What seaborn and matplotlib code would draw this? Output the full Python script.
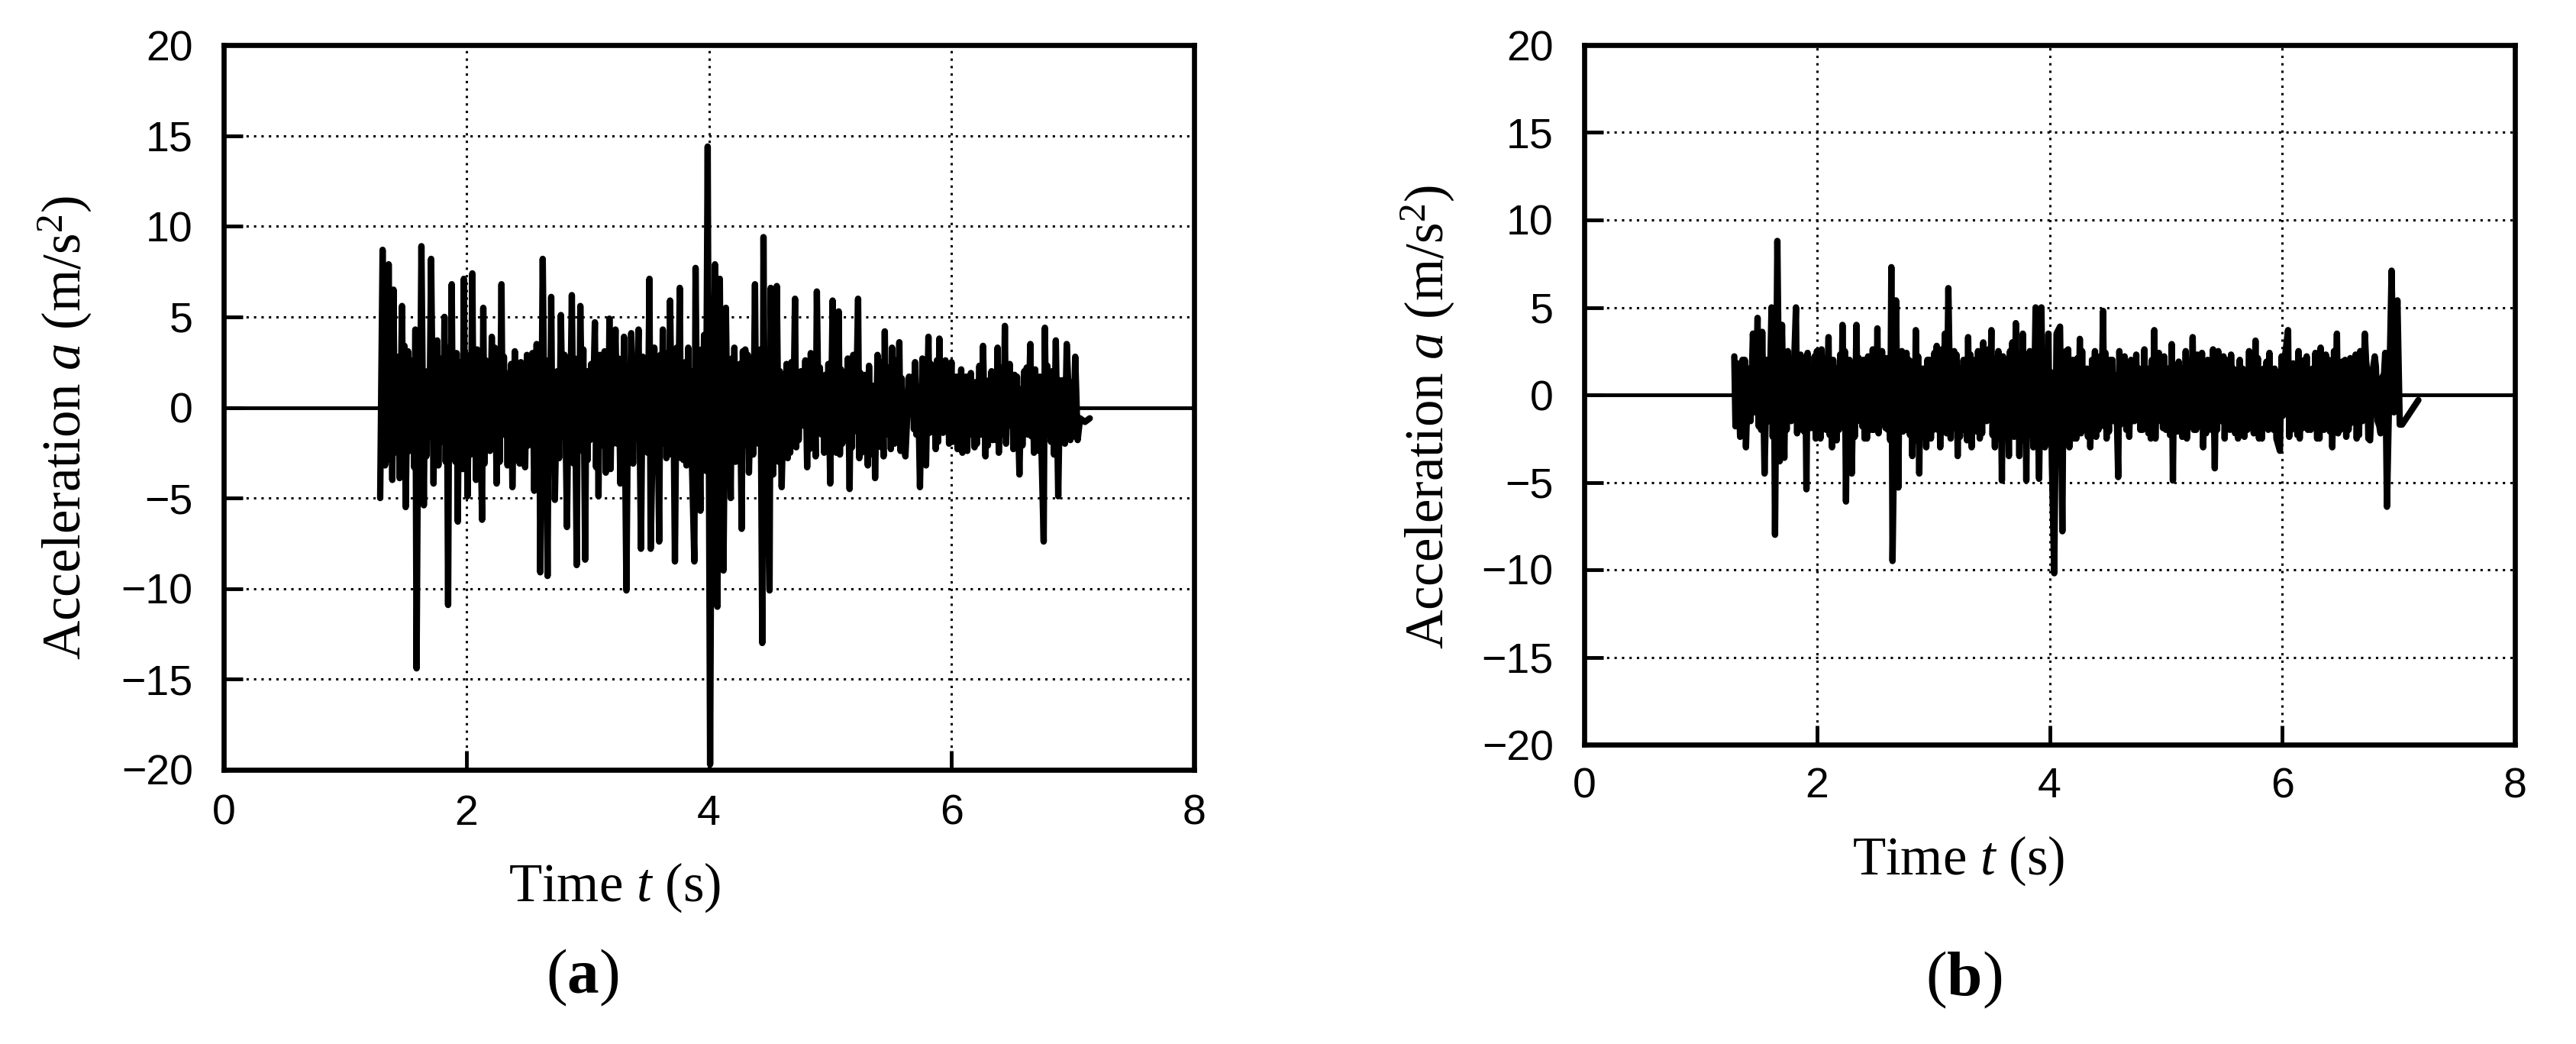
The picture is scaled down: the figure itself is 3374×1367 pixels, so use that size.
import numpy as np
import pandas as pd
import matplotlib
matplotlib.use("Agg")
import matplotlib.pyplot as plt
import seaborn as sns

# ---------------- data ----------------
# panel (a): main peaks / troughs
time_a = [1.29, 1.31, 1.33, 1.36, 1.39, 1.40, 1.43, 1.45, 1.47, 1.50, 1.52, 1.55, 1.58, 1.59,
          1.63, 1.65, 1.68, 1.71, 1.73, 1.76, 1.79, 1.82, 1.85, 1.88, 1.91, 1.93, 1.96, 1.98,
          2.01, 2.05, 2.08, 2.11, 2.13, 2.14, 2.17, 2.21, 2.25, 2.29, 2.32, 2.35, 2.38, 2.40,
          2.44, 2.47, 2.50, 2.53, 2.56, 2.58, 2.61, 2.63, 2.67, 2.70, 2.73, 2.75, 2.78, 2.83,
          2.87, 2.91, 2.94, 2.98, 3.01, 3.04, 3.06, 3.09, 3.12, 3.15, 3.18, 3.21, 3.23, 3.27,
          3.30, 3.32, 3.36, 3.40, 3.42, 3.44, 3.48, 3.51, 3.52, 3.55, 3.59, 3.62, 3.65, 3.68,
          3.72, 3.76, 3.79, 3.83, 3.86, 3.88, 3.89, 3.93, 3.96, 3.99, 4.01, 4.05, 4.07, 4.09,
          4.12, 4.14, 4.18, 4.21, 4.24, 4.27, 4.30, 4.33, 4.35, 4.38, 4.41, 4.44, 4.45, 4.48,
          4.50, 4.51, 4.53, 4.56, 4.60, 4.62, 4.65, 4.68, 4.71, 4.74, 4.76, 4.78, 4.81, 4.84,
          4.86, 4.89, 4.93, 4.96, 5.00, 5.02, 5.05, 5.07, 5.10, 5.12, 5.16, 5.19, 5.23, 5.26,
          5.29, 5.31, 5.34, 5.37, 5.39, 5.42, 5.45, 5.48, 5.51, 5.53, 5.57, 5.60, 5.62, 5.65,
          5.66, 5.68, 5.71, 5.74, 5.76, 5.79, 5.81, 5.84, 5.87, 5.90, 5.93, 5.95, 5.98, 6.00,
          6.03, 6.06, 6.09, 6.12, 6.15, 6.18, 6.21, 6.26, 6.28, 6.31, 6.34, 6.38, 6.41, 6.44,
          6.47, 6.50, 6.53, 6.54, 6.56, 6.60, 6.63, 6.65, 6.68, 6.71, 6.74, 6.76, 6.77, 6.80,
          6.83, 6.86, 6.88, 6.92, 6.95, 6.98, 7.02, 7.04, 7.06, 7.10, 7.14]
acc_a = [-5.0, 8.7, -3.2, 7.9, -4.0, 6.5, -2.5, -3.9, 5.6, -5.5, 3.1, -2.0, 4.3, -14.4,
         8.9, -5.4, 2.0, 8.2, -4.2, 3.7, -1.5, 5.0, -10.9, 6.8, -3.0, -6.3, 2.5, 7.1,
         -4.9, 7.4, -4.0, 2.0, -6.2, 5.5, -2.0, 3.9, -4.2, 6.8, -1.5, 1.9, -4.4, 3.1,
         -3.1, 1.5, 2.9, -1.0, -4.6, 3.5, -9.1, 8.2, -9.3, 6.1, -5.1, 2.0, 5.1, -6.6,
         6.2, -8.7, 5.6, -8.4, 2.0, -1.5, 4.7, -4.9, 2.1, -3.6, 4.9, -2.0, 4.3, -4.2,
         3.9, -10.1, 4.1, -1.0, 4.3, -7.8, 1.5, 7.1, -7.8, 3.3, -7.4, 4.3, -2.8, 5.9,
         -8.5, 6.6, -2.9, 3.3, -3.0, -8.5, 7.7, -5.7, 4.0, 14.4, -19.7, 7.9, -11.0, 7.1,
         -9.0, 5.5, -5.0, 3.3, -1.0, -6.7, 3.2, -3.6, 1.8, 6.8, -2.0, -13.0, 9.4, -3.0,
         -10.1, 6.6, -3.7, 6.7, -4.4, 1.8, -2.8, 2.5, 6.0, -1.8, 2.0, -1.0, -3.3, 3.0,
         -1.2, 6.4, -1.5, 1.8, -4.2, 5.9, -2.5, 5.3, -2.0, 1.5, -4.5, 2.9, 6.0, -2.5,
         1.8, -3.2, 1.2, -3.9, 2.9, -2.2, 4.2, -1.5, 3.3, -2.0, 3.6, -1.5, -2.7, 1.7,
         0.5, 1.7, -1.5, -4.4, 2.7, -3.2, 3.9, -1.0, -2.3, 3.8, -1.4, 2.6, -2.0, 2.5,
         -1.0, 1.2, -2.5, 1.7, -1.5, 1.0, -2.0, 3.4, -2.7, 1.5, -1.8, 3.3, -1.5, 4.5,
         -1.0, 1.5, -2.0, 1.7, -3.7, 2.0, -1.5, 3.5, -2.5, 1.0, -1.8, -7.4, 4.4, -1.5,
         2.0, 3.7, -4.9, 1.5, 3.5, -1.8, 2.8, -1.8, -0.6, -0.8, -0.6]
# panel (a): smaller oscillations filling the dense core
extra_time_a = [1.34, 1.35, 1.37, 1.38, 1.41, 1.42, 1.44, 1.48, 1.49, 1.53, 1.54, 1.56, 1.57,
                1.605, 1.615, 1.66, 1.67, 1.695, 1.74, 1.75, 1.77, 1.78, 1.80, 1.81, 1.83, 1.84,
                1.86, 1.87, 1.89, 1.90, 1.92, 1.94, 1.95, 1.97, 1.99, 2.00, 2.025, 2.035, 2.06,
                2.07, 2.09, 2.10, 2.15, 2.16, 2.185, 2.195, 2.225, 2.235, 2.265, 2.275, 2.30,
                2.31, 2.33, 2.34, 2.36, 2.37, 2.415, 2.425, 2.45, 2.46, 2.485, 2.51, 2.52, 2.545,
                2.59, 2.60, 2.645, 2.655, 2.68, 2.69, 2.71, 2.72, 2.765, 2.795, 2.81, 2.845,
                2.855, 2.885, 2.895, 2.92, 2.93, 2.955, 2.965, 2.99, 3.00, 3.02, 3.03, 3.07,
                3.08, 3.10, 3.11, 3.13, 3.14, 3.16, 3.17, 3.19, 3.20, 3.245, 3.255, 3.28, 3.29,
                3.335, 3.345, 3.375, 3.385, 3.455, 3.465, 3.495, 3.565, 3.575, 3.60, 3.61, 3.63,
                3.64, 3.66, 3.67, 3.695, 3.705, 3.735, 3.745, 3.77, 3.78, 3.805, 3.815, 3.84,
                3.85, 3.905, 3.915, 3.94, 3.95, 3.975, 4.025, 4.035, 4.10, 4.11, 4.155, 4.165,
                4.19, 4.20, 4.22, 4.23, 4.255, 4.28, 4.29, 4.31, 4.32, 4.365, 4.39, 4.40, 4.425,
                4.46, 4.47, 4.54, 4.55, 4.575, 4.585, 4.63, 4.64, 4.66, 4.67, 4.695, 4.72, 4.73,
                4.795, 4.82, 4.83, 4.87, 4.88, 4.905, 4.915, 4.94, 4.95, 4.975, 4.985, 5.03,
                5.04, 5.08, 5.09, 5.135, 5.145, 5.17, 5.18, 5.21, 5.24, 5.25, 5.27, 5.28, 5.32,
                5.33, 5.35, 5.36, 5.40, 5.41, 5.43, 5.44, 5.46, 5.47, 5.49, 5.50, 5.545, 5.555,
                5.58, 5.59, 5.69, 5.70, 5.725, 5.77, 5.78, 5.82, 5.83, 5.855, 5.88, 5.89, 5.91,
                5.92, 5.96, 5.97, 6.01, 6.02, 6.04, 6.05, 6.07, 6.08, 6.10, 6.11, 6.13, 6.14,
                6.16, 6.17, 6.19, 6.20, 6.23, 6.245, 6.29, 6.30, 6.32, 6.33, 6.355, 6.365, 6.39,
                6.40, 6.42, 6.43, 6.45, 6.46, 6.48, 6.49, 6.51, 6.52, 6.575, 6.585, 6.61, 6.62,
                6.66, 6.67, 6.69, 6.70, 6.72, 6.73, 6.78, 6.79, 6.81, 6.82, 6.845, 6.895, 6.905,
                6.935, 6.995, 7.005]
extra_acc_a = [1.6, -2.9, -1.4, 3.2, -2.2, 1.3, 2.8, -1.7, 3.4, -2.4, 1.5, 2.6, -3.3,
               2.1, -3.5, 1.8, -2.7, -1.6, 3.1, -2.0, -3.2, 1.4, 2.7, -1.9, -3.0, 2.3,
               3.3, -1.5, -2.8, 1.7, 3.0, 1.4, -2.2, -3.4, -1.6, 2.9, 2.0, -2.6, -1.8,
               1.5, 3.2, -2.0, -3.1, 2.6, 1.2, -2.4, -1.7, 3.3, 2.2, -3.0, -1.5,
               2.8, 1.6, -3.2, -1.4, 2.4, -2.9, 1.8, 2.5, -1.6, -3.3, -2.1, 1.4, 3.0,
               -2.0, 3.1, -1.7, 2.6, 1.9, -3.4, -2.3, 1.5, -2.8, -1.6, 2.9, 2.1,
               -1.5, -3.1, 2.7, 1.6, -2.4, -1.3, 3.2, 2.0, -2.9, -1.8, 2.4, -3.3,
               1.7, 2.9, -2.1, -1.5, 3.1, 1.8, -2.6, -3.4, 1.4, -2.0, 2.7, 1.5, -3.0,
               2.2, -1.4, -3.1, 1.9, 2.8, -1.6, -2.5, -3.2, 1.5, 2.9, -2.0, -1.3,
               3.0, 1.7, -2.6, -1.5, 2.3, 3.3, -1.9, -2.8, 1.4, 2.5, -3.2, -1.7,
               2.0, -2.9, 1.6, 3.2, -1.8, -3.5, 2.4, -2.7, -1.4, 3.0, -2.2, 1.5,
               2.7, -1.6, -3.0, 1.8, 2.4, 3.1, -2.1, -1.4, 2.9, -2.6, -1.7, 1.5, 3.2,
               -2.2, 1.7, 2.8, -1.5, -3.0, 2.0, -1.6, 2.4, 1.2, -2.5, -1.4, -2.2, 1.7,
               2.6, 1.1, -2.3, 1.5, -2.7, -1.2, 2.2, 1.4, -2.5, -1.0, 2.4, -1.8,
               1.3, -2.6, 2.1, -1.1, 2.7, 1.6, -2.2, -1.3, -2.8, 1.9, 1.0, -2.4, 2.3,
               -1.5, -2.6, 1.2, -2.0, 2.5, 1.4, -2.7, -1.1, 2.2, 1.5, -2.3, 2.6, -1.3,
               -2.4, 1.6, -1.2, 2.5, 1.1, -2.6, 1.8, -1.4, 2.4, 1.3, 2.6, -1.9, -1.1,
               2.0, -1.2, 2.2, -1.9, 0.9, 1.7, -2.3, -1.0, 2.1, 1.3, -1.7, -2.4, 0.9,
               1.9, -1.1, -2.2, 1.4, 2.3, -1.5, 1.0, -2.1, -1.3, 2.0, 1.2, -1.8, -2.5,
               1.1, 2.2, -1.4, -2.0, 1.6, 2.4, -1.0, -2.3, 1.8, 1.0, -2.1, -1.3, 2.2,
               -1.6, 1.3, 2.1, -1.2, -2.4, 1.7, -1.4, 2.3, 1.0, -1.9, -2.6, 1.5, -1.2,
               -2.0, 1.4, -1.6]

# panel (b): main peaks / troughs
time_b = [1.29, 1.30, 1.32, 1.34, 1.36, 1.39, 1.41, 1.43, 1.45, 1.47, 1.49, 1.52, 1.53, 1.55,
          1.57, 1.59, 1.61, 1.64, 1.66, 1.68, 1.70, 1.72, 1.75, 1.78, 1.80, 1.82, 1.85, 1.88,
          1.91, 1.94, 1.97, 2.00, 2.03, 2.06, 2.08, 2.10, 2.13, 2.16, 2.19, 2.22, 2.25, 2.28,
          2.30, 2.34, 2.37, 2.40, 2.43, 2.46, 2.49, 2.52, 2.55, 2.58, 2.61, 2.64, 2.65, 2.68,
          2.70, 2.73, 2.76, 2.79, 2.82, 2.85, 2.88, 2.91, 2.94, 2.97, 3.00, 3.03, 3.06, 3.10,
          3.13, 3.15, 3.18, 3.21, 3.24, 3.27, 3.30, 3.33, 3.36, 3.40, 3.43, 3.46, 3.50, 3.53,
          3.56, 3.59, 3.62, 3.65, 3.68, 3.71, 3.74, 3.77, 3.80, 3.83, 3.86, 3.88, 3.91, 3.93,
          3.96, 3.99, 4.02, 4.04, 4.06, 4.09, 4.11, 4.14, 4.17, 4.20, 4.23, 4.26, 4.29, 4.32,
          4.35, 4.39, 4.42, 4.46, 4.49, 4.52, 4.55, 4.59, 4.62, 4.66, 4.70, 4.73, 4.77, 4.80,
          4.84, 4.87, 4.90, 4.93, 4.96, 5.00, 5.05, 5.06, 5.09, 5.12, 5.15, 5.18, 5.23, 5.26,
          5.29, 5.32, 5.36, 5.39, 5.42, 5.45, 5.48, 5.52, 5.55, 5.58, 5.62, 5.66, 5.70, 5.74,
          5.77, 5.80, 5.84, 5.88, 5.91, 5.95, 5.98, 6.02, 6.05, 6.08, 6.12, 6.15, 6.19, 6.22,
          6.26, 6.30, 6.33, 6.36, 6.40, 6.43, 6.47, 6.50, 6.54, 6.57, 6.61, 6.64, 6.67, 6.71,
          6.74, 6.78, 6.82, 6.86, 6.90, 6.94, 6.96, 6.99, 7.01, 7.03, 7.10, 7.17]
acc_b = [2.2, -1.8, 1.8, -2.4, 2.0, -3.0, 1.5, -1.5, 3.5, -1.0, 4.4, -2.0, 3.6, -4.5,
         2.0, -1.5, 5.0, -8.0, 8.8, -3.8, 4.0, -3.6, 2.5, -1.5, 1.0, 5.0, -2.0, 1.0,
         -5.4, 1.0, -1.5, 2.5, -2.5, 1.5, -2.0, 3.3, -3.0, 1.5, -2.0, 4.0, -6.1, 2.0,
         -4.5, 4.0, -1.5, 2.0, -2.5, 2.0, -2.0, 3.8, -1.5, 1.5, -2.0, 7.3, -9.5, 5.4,
         -5.3, 2.5, -2.0, 2.0, -3.5, 3.7, -4.5, 1.5, -3.0, 2.0, -2.0, 2.8, -3.0, 3.5,
         6.1, -2.5, 2.5, -3.5, 1.5, -2.0, 3.3, -3.0, 2.0, -2.5, 3.0, -1.5, 3.7, -3.0,
         2.5, -4.9, 2.0, -3.5, 3.0, 4.1, -3.5, 3.5, -4.9, 2.5, -3.0, 5.0, -4.8, 5.0,
         -3.0, 3.5, -4.0, -10.2, 3.5, 3.9, -7.8, 2.5, -3.0, 2.0, -2.5, 3.2, -2.0, 1.5,
         -3.0, 2.5, -2.0, 4.8, -2.5, 2.0, -1.5, -4.7, 2.0, -2.0, 2.0, -1.5, 1.5, -2.0,
         1.5, -2.5, 3.7, -1.5, 1.5, -2.0, 2.9, -4.9, 1.5, -2.0, 1.5, -2.5, 3.3, -2.0,
         1.5, -3.0, 2.0, -2.0, -4.2, 2.5, -1.5, 2.0, -2.0, 1.5, -2.5, 1.5, -2.0, 2.0,
         3.1, -2.5, 1.5, -2.0, 1.5, -2.5, -3.2, 2.0, 3.7, -2.0, 1.5, -2.5, 2.0, -2.0,
         1.5, -2.5, 2.7, -2.0, 2.0, -3.0, 3.5, -2.0, 2.0, -2.0, 1.5, -2.5, 2.5, 3.5,
         -2.5, 1.5, -1.5, 1.0, -6.4, 7.1, -1.0, 5.4, -1.7, -1.7, -1.0, -0.3]
# panel (b): smaller oscillations filling the dense core
extra_time_b = [1.37, 1.38, 1.50, 1.51, 1.62, 1.63, 1.73, 1.74, 1.76, 1.77, 1.83, 1.84, 1.86,
                1.87, 1.89, 1.90, 1.92, 1.93, 1.95, 1.96, 1.98, 1.99, 2.01, 2.02, 2.04, 2.05,
                2.11, 2.12, 2.14, 2.15, 2.17, 2.18, 2.20, 2.21, 2.23, 2.24, 2.26, 2.27, 2.315,
                2.325, 2.35, 2.36, 2.38, 2.39, 2.41, 2.42, 2.44, 2.45, 2.47, 2.48, 2.50, 2.51,
                2.53, 2.54, 2.56, 2.57, 2.59, 2.60, 2.62, 2.63, 2.71, 2.72, 2.74, 2.75, 2.77,
                2.78, 2.80, 2.81, 2.83, 2.84, 2.86, 2.87, 2.89, 2.90, 2.92, 2.93, 2.95, 2.96,
                2.98, 2.99, 3.01, 3.02, 3.04, 3.05, 3.075, 3.085, 3.115, 3.16, 3.17, 3.19, 3.20,
                3.22, 3.23, 3.25, 3.26, 3.28, 3.29, 3.31, 3.32, 3.34, 3.35, 3.375, 3.385, 3.41,
                3.42, 3.44, 3.45, 3.475, 3.485, 3.51, 3.52, 3.54, 3.55, 3.57, 3.58, 3.60, 3.61,
                3.63, 3.64, 3.66, 3.67, 3.695, 3.72, 3.73, 3.75, 3.76, 3.78, 3.79, 3.81, 3.82,
                3.84, 3.85, 3.94, 3.95, 3.97, 3.98, 4.00, 4.01, 4.12, 4.13, 4.15, 4.16, 4.18,
                4.19, 4.21, 4.22, 4.24, 4.25, 4.27, 4.28, 4.30, 4.31, 4.33, 4.34, 4.365, 4.375,
                4.40, 4.41, 4.435, 4.445, 4.47, 4.48, 4.50, 4.51, 4.53, 4.54, 4.57, 4.60, 4.61,
                4.635, 4.645, 4.675, 4.685, 4.71, 4.72, 4.745, 4.755, 4.78, 4.79, 4.815, 4.825,
                4.85, 4.86, 4.88, 4.89, 4.91, 4.92, 4.94, 4.95, 4.975, 4.985, 5.02, 5.035, 5.07,
                5.08, 5.10, 5.11, 5.13, 5.14, 5.16, 5.17, 5.20, 5.215, 5.24, 5.25, 5.27, 5.28,
                5.30, 5.31, 5.335, 5.345, 5.37, 5.38, 5.405, 5.43, 5.44, 5.46, 5.47, 5.495,
                5.505, 5.53, 5.54, 5.56, 5.57, 5.595, 5.605, 5.635, 5.645, 5.675, 5.685, 5.715,
                5.725, 5.755, 5.78, 5.79, 5.815, 5.825, 5.855, 5.865, 5.89, 5.90, 5.925, 5.935,
                5.995, 6.005, 6.06, 6.07, 6.095, 6.105, 6.13, 6.14, 6.165, 6.175, 6.20, 6.21,
                6.235, 6.245, 6.275, 6.285, 6.31, 6.32, 6.34, 6.35, 6.375, 6.385, 6.41, 6.42,
                6.445, 6.455, 6.48, 6.49, 6.515, 6.525, 6.55, 6.56, 6.585, 6.595, 6.62, 6.63,
                6.65, 6.66, 6.69, 6.72, 6.73, 6.755, 6.765, 6.795, 6.805, 6.835, 6.845, 6.875,
                6.885]
extra_acc_b = [-1.2, 2.0, -1.8, 1.0, -2.4, 2.6, 1.3, -2.0, -1.1, 1.9, -2.2, 1.4, 2.3,
               -1.0, -2.1, 1.6, 2.4, -1.3, -1.9, 1.1, 2.2, -2.5, -1.2, 1.8, 2.6, -1.4,
               -2.3, 1.2, 2.0, -1.1, -2.6, 1.5, 2.3, -1.7, -1.0, 2.5, 1.3, -2.0, 1.7,
               -2.4, -1.1, 2.1, 1.4, -1.8, -2.5, 1.0, 2.2, -1.6, -2.0, 2.6, 1.2, -1.3,
               -2.2, 1.6, 2.5, -1.0, -1.9, 2.1, 1.1, -2.6, 1.8, -1.3, -2.1, 1.2, 2.4,
               -1.4, -2.3, 1.9, 1.0, -2.6, -1.2, 2.2, 1.5, -1.8, -2.4, 1.1, 2.0, -1.6,
               -2.5, 1.3, 2.4, -1.1, -2.0, 1.7, 2.6, -1.4, -2.2, 1.2, -1.9, -1.0, 2.3,
               1.4, -2.4, -1.2, 2.0, 1.1, -2.6, -1.5, 2.3, 1.6, -1.0, -2.1, 2.5, 1.3,
               -2.2, -1.3, 1.9, 2.6, -1.1, -2.3, 1.4, 2.1, -1.7, -2.5, 1.0, 2.2, -1.4,
               -2.0, 1.2, 2.5, -1.6, -2.4, -1.1, 1.8, 2.3, -1.3, -2.6, 1.5, 2.1, -1.0,
               -2.3, 1.6, -1.2, 2.4, 1.1, -2.0, -2.7, 1.3, 2.2, -1.5, -1.0, 2.6, 1.4,
               -1.9, -2.5, 1.2, 2.1, -1.4, -2.2, 2.5, 1.0, -1.6, -2.4, 1.3, 2.0, -1.1,
               -2.4, 1.5, 2.2, -1.0, -1.8, 2.4, 1.2, -2.1, -1.4, 2.0, 1.1, 2.5, -1.7,
               -1.2, 2.2, 1.0, -2.4, -1.5, 1.8, 2.3, -1.1, -2.0, 1.4, 2.6, -1.3,
               -2.2, 1.1, 2.0, -1.6, -2.5, 1.3, 2.4, -1.0, -1.9, 2.2, 1.5, -2.3, 1.2,
               -1.4, -2.1, 1.9, 1.0, -2.4, -1.2, 2.5, 1.6, -1.1, -2.0, 1.3, 2.3, -1.8,
               -1.1, 2.4, 1.2, -2.2, -1.5, 1.9, 2.6, 1.0, -2.0, -1.3, 1.4, 2.2,
               -2.5, -1.2, 1.7, 2.3, -1.0, -2.2, 1.1, 2.0, -1.6, -2.4, 1.3, 2.5,
               -1.4, -2.2, -1.0, 2.1, 1.2, -2.5, -1.3, 1.9, 2.4, -1.1, -2.0, 1.5,
               2.2, -1.2, -2.4, 1.0, 1.8, -1.5, -2.3, 2.5, 1.1, -1.9, -1.3, 2.2,
               1.4, -2.0, -1.1, 2.4, 1.6, -2.5, -1.2, 1.9, 2.3, -1.4, -2.1, 1.0,
               2.5, -1.3, -2.2, 1.2, 1.9, -1.0, -2.4, 1.5, 2.1, -1.6, -1.2, 2.3,
               1.1, -2.3, -1.5, 2.0, 1.3, -2.6, -1.1, 2.2, 1.6, -1.8, -2.2, 1.2,
               2.4, -1.4, -2.0, -1.2, 1.7, 2.3, -1.0, -2.1, 1.5, 2.0, -2.6, -1.3,
               1.8]

x_ticks = [0, 2, 4, 6, 8]
y_ticks = [-20, -15, -10, -5, 0, 5, 10, 15, 20]
y_tick_labels = ["\u221220", "\u221215", "\u221210", "\u22125", "0", "5", "10", "15", "20"]
x_label = r"Time $t$ (s)"
y_label = r"Acceleration $a$ (m/s$^2$)"
panel_names = [r"($\mathbf{a}$)", r"($\mathbf{b}$)"]

# ---------------- style ----------------
sns.set_theme(style="ticks")
plt.rcParams["font.family"] = ["Liberation Sans", "DejaVu Sans"]
plt.rcParams["mathtext.fontset"] = "custom"
plt.rcParams["mathtext.rm"] = "Liberation Serif"
plt.rcParams["mathtext.it"] = "Liberation Serif:italic"
plt.rcParams["mathtext.bf"] = "Liberation Serif:bold"

fig = plt.figure(figsize=(33.74, 13.67), dpi=100)
fig.patch.set_facecolor("white")

axes_pos = [
    [293 / 3374, 1 - 1008 / 1367, (1564 - 293) / 3374, (1008 - 59) / 1367],
    [2075 / 3374, 1 - 975 / 1367, (3294 - 2075) / 3374, (975 - 59) / 1367],
]
xlab_coords = [(0.403, -0.126), (0.402, -0.128)]
ylab_coords = [(-0.134, 0.472), (-0.137, 0.469)]
xtick_pad = [23, 21]
panel_pos = [(763 / 3374, 1 - 1280 / 1367), (2572 / 3374, 1 - 1283 / 1367)]

datasets = [(time_a, acc_a, extra_time_a, extra_acc_a),
            (time_b, acc_b, extra_time_b, extra_acc_b)]

for i, (t, acc, te, ae) in enumerate(datasets):
    ax = fig.add_axes(axes_pos[i])
    ax.set_facecolor("white")
    n_main = min(len(t), len(acc))
    n_extra = min(len(te), len(ae))
    df = pd.DataFrame({"t": list(t[:n_main]) + list(te[:n_extra]),
                       "a": list(acc[:n_main]) + list(ae[:n_extra])})
    df = df.sort_values("t", kind="mergesort").reset_index(drop=True)
    ax.axhline(0, color="black", lw=3.5, zorder=2)
    sns.lineplot(data=df, x="t", y="a", ax=ax, color="black", linewidth=6.0,
                 sort=False, estimator=None, zorder=3)
    ax.set_xlim(0, 8)
    ax.set_ylim(-20, 20)
    ax.set_xticks(x_ticks)
    ax.set_xticklabels([str(v) for v in x_ticks])
    ax.set_yticks(y_ticks)
    ax.set_yticklabels(y_tick_labels)
    ax.grid(True, color="black", lw=2.2, linestyle=(0, (1, 2.2)))
    ax.set_axisbelow(True)
    for s in ax.spines.values():
        s.set_visible(True)
        s.set_color("black")
        s.set_linewidth(4.8)
        s.set_zorder(5)
    ax.tick_params(axis="both", direction="in", length=18, width=3.5,
                   color="black", labelsize=40, labelcolor="black")
    ax.tick_params(axis="y", pad=29)
    ax.tick_params(axis="x", pad=xtick_pad[i])
    ax.set_xlabel(x_label, fontsize=51, family=["Liberation Serif"], color="black")
    ax.set_ylabel(y_label, fontsize=51, family=["Liberation Serif"], color="black")
    ax.xaxis.set_label_coords(*xlab_coords[i])
    ax.yaxis.set_label_coords(*ylab_coords[i])
    fig.text(panel_pos[i][0], panel_pos[i][1], panel_names[i], fontsize=60,
             family=["Liberation Serif"], ha="center", va="center", color="black")

fig.savefig("out.png", dpi=100, facecolor="white")
